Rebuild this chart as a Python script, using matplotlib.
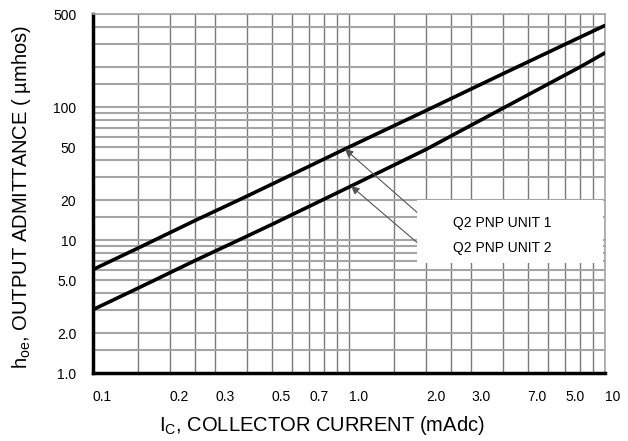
import numpy as np
import matplotlib
matplotlib.use("Agg")
import matplotlib.pyplot as plt
from matplotlib.patches import Rectangle

plt.rcParams['font.family'] = ['Liberation Sans', 'DejaVu Sans']
plt.rcParams['mathtext.fontset'] = 'custom'
plt.rcParams['mathtext.rm'] = 'Liberation Sans'

# --- data ---
ic = [0.1, 0.15, 0.25, 0.4, 0.5, 1.0, 2.0, 4.0, 8.0, 10.0]
hoe_unit1 = [6.0, 8.7, 14.0, 21.4, 26.3, 50.0, 94.0, 178.0, 335.0, 410.0]
hoe_unit2 = [3.0, 4.35, 7.0, 10.7, 13.1, 25.0, 48.0, 98.0, 200.0, 255.0]
labels = ["Q2 PNP UNIT 1", "Q2 PNP UNIT 2"]

x_ticks = [0.1, 0.2, 0.3, 0.5, 0.7, 1.0, 2.0, 3.0, 5.0, 7.0, 10.0]
x_ticklabels = ["0.1", "0.2", "0.3", "0.5", "0.7", "1.0", "2.0", "3.0", "7.0", "5.0", "10"]
y_ticks = [1, 2, 5, 10, 20, 50, 100, 500]
y_ticklabels = ["1.0", "2.0", "5.0", "10", "20", "50", "100", "500"]

grid_x = [0.15, 0.2, 0.25, 0.3, 0.4, 0.5, 0.6, 0.7, 0.8, 0.9, 1.0,
          1.5, 2, 2.5, 3, 4, 5, 6, 7, 8, 9, 10]
grid_y = [1.5, 2, 3, 4, 5, 6, 7, 8, 9, 10, 15, 20, 30, 40, 50, 60, 70, 80, 90,
          100, 150, 200, 300, 400, 500]

fig = plt.figure(figsize=(6.28, 4.41), dpi=100)
ax = fig.add_axes([0.148, 0.154, 0.815, 0.814])
ax.set_xscale('log')
ax.set_yscale('log')
ax.set_xlim(0.1, 10)
ax.set_ylim(1, 500)

for gx in grid_x:
    ax.axvline(gx, color='#7a7a7a', lw=1.0, zorder=1)
for gy in grid_y:
    ax.axhline(gy, color='#a5a5a5', lw=1.5, zorder=1)

ax.plot(ic, hoe_unit1, color='black', lw=2.6, zorder=4, solid_capstyle='round')
ax.plot(ic, hoe_unit2, color='black', lw=2.6, zorder=4, solid_capstyle='round')

ax.set_xticks(x_ticks)
ax.set_xticklabels(x_ticklabels)
ax.set_yticks(y_ticks)
ax.set_yticklabels(y_ticklabels)
ax.minorticks_off()
ax.tick_params(length=0, labelsize=10, pad=12)
for lab in ax.get_xticklabels():
    lab.set_horizontalalignment('left')

for side in ['top', 'right']:
    ax.spines[side].set_color('#a5a5a5')
    ax.spines[side].set_linewidth(1.2)
for side in ['left', 'bottom']:
    ax.spines[side].set_color('black')
    ax.spines[side].set_linewidth(2.5)

# legend box with arrows pointing to the curves
ax.add_patch(Rectangle((0.633, 0.306), 0.363, 0.176, transform=ax.transAxes,
                       facecolor='white', edgecolor='none', zorder=5))
lx = np.log10(ic)
heads = [(0.965, 10 ** np.interp(np.log10(0.965), lx, np.log10(hoe_unit1))),
         (1.02, 10 ** np.interp(np.log10(1.02), lx, np.log10(hoe_unit2)))]
tails = [(0.633, 0.448), (0.633, 0.364)]
texts_y = [0.418, 0.348]
for lab, head, tail, ty in zip(labels, heads, tails, texts_y):
    ax.annotate('', xy=head, xycoords='data', xytext=tail, textcoords='axes fraction',
                arrowprops=dict(arrowstyle='-|>', color='#555555', lw=0.8,
                                mutation_scale=12, shrinkA=0, shrinkB=0,
                                facecolor='black'), zorder=6)
    ax.text(0.703, ty, lab, transform=ax.transAxes, fontsize=10,
            ha='left', va='center', zorder=6)

ax.set_xlabel(r"I$_{\rm C}$, COLLECTOR CURRENT (mAdc)", fontsize=14.5,
              va='center', ha='center')
ax.set_ylabel(r"h$_{\rm oe}$, OUTPUT ADMITTANCE ( µmhos)", fontsize=14.5,
              va='center', ha='center')
ax.xaxis.set_label_coords(0.447, -0.145)
ax.yaxis.set_label_coords(-0.139, 0.49)

fig.savefig("out.png", dpi=100)
